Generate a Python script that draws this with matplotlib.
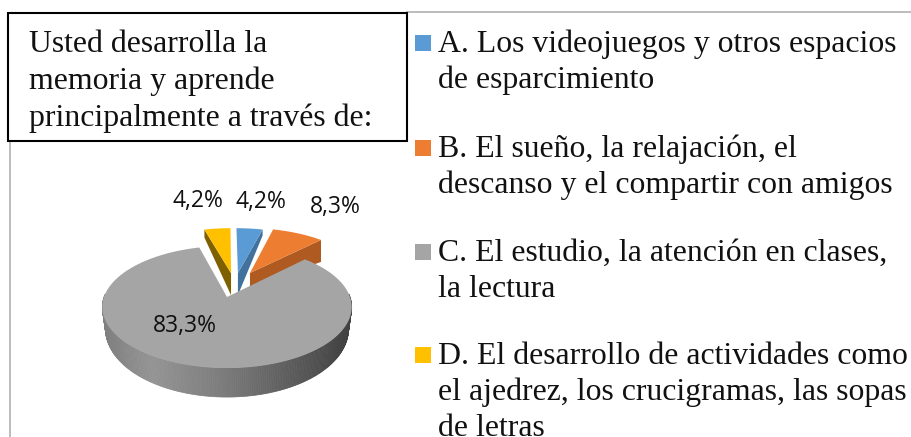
import numpy as np
import matplotlib
matplotlib.use("Agg")
import matplotlib.pyplot as plt
from matplotlib.patches import Polygon, Rectangle

# data
shares = [4.2, 8.3, 83.3, 4.2]
share_labels = ["4,2%", "8,3%", "83,3%", "4,2%"]
colors = ["#5B9BD5", "#ED7D31", "#A5A5A5", "#FFC000"]
dark = ["#41719C", "#AE5A21", "#6E6E6E", "#7F6000"]
title_lines = ["Usted desarrolla la", "memoria y aprende", "principalmente a través de:"]
legend_items = [
    ["A. Los videojuegos y otros espacios", "de esparcimiento"],
    ["B. El sueño, la relajación, el", "descanso y el compartir con amigos"],
    ["C. El estudio, la atención en clases,", "la lectura"],
    ["D. El desarrollo de actividades como", "el ajedrez, los crucigramas, las sopas", "de letras"],
]

# layout, in pixels of the picture
offsets = [(0.095, 0.43), (0.20, 0.433), (0, 0), (0.035, 0.43)]
label_xy = [(261, 202), (335, 207), (185, 326), (198, 201)]
legend_y = [52, 157, 261, 364]
CX, CY = 227, 297
A, B, K = 123, 59.4, 0.164

plt.rcParams["font.family"] = ["Liberation Serif", "DejaVu Sans"]
fig = plt.figure(figsize=(9.11, 4.37), dpi=100)
ax = fig.add_axes([0, 0, 1, 1])
ax.set_xlim(0, 911)
ax.set_ylim(437, 0)
ax.axis("off")


def project(t, r=1.0, off=(0, 0), drop=0.0):
    # t is clockwise from twelve o'clock, tilted with some perspective
    u = r * np.sin(t) + off[0]
    v = r * np.cos(t) + off[1]
    d = 1 + K * v
    return CX + A * u / d, CY - B * v / d + drop


def front_depth(t):
    return 20 - 9 * np.cos(t)


ends = np.cumsum(shares) / np.sum(shares) * 2 * np.pi
starts = ends - np.array(shares) / np.sum(shares) * 2 * np.pi

# chart frame behind the title box
ax.plot([10, 10], [141, 437], color="#B0B0B0", lw=1.2)
ax.plot([407, 911], [12, 12], color="#B0B0B0", lw=1.2)

# exploded slices first, the big one sits in front of them
wall_depth = {0: (22, 6), 1: (14, 22), 3: (22, 8)}
for i in [3, 0, 1]:
    ts = np.linspace(starts[i], ends[i], 40)
    off = offsets[i]
    d_in, d_out = wall_depth[i]
    x0, y0 = project(0, 0, off)
    # the cut face that shows is on the side away from twelve o'clock
    edge = starts[i] if i == 3 else ends[i]
    x1, y1 = project(edge, 1, off)
    wall = [(x0, y0), (x1, y1), (x1, y1 + d_out), (x0, y0 + d_in)]
    ax.add_patch(Polygon(wall, fc=dark[i], ec="none"))
    xs, ys = project(ts, 1, off)
    top = np.column_stack([np.r_[x0, xs], np.r_[y0, ys]])
    ax.add_patch(Polygon(top, fc=colors[i], ec="none"))

# side of the big slice, grey running darker to the right
ts = np.linspace(np.pi / 2 - 0.05, 3 * np.pi / 2 + 0.05, 240)
xt, yt = project(ts)
xb = CX + (xt - CX) * 0.975
yb = yt + front_depth(ts)
left_x, right_x = xt.min(), xt.max()
for j in range(len(ts) - 1):
    f = (xt[j] - left_x) / (right_x - left_x)
    g = np.interp(f, [0, 0.2, 0.5, 1], [0.50, 0.58, 0.48, 0.25])
    quad = [(xt[j], yt[j]), (xt[j + 1], yt[j + 1]), (xb[j + 1], yb[j + 1]), (xb[j], yb[j])]
    ax.add_patch(Polygon(quad, fc=(g, g, g), ec=(g, g, g), lw=0.5))

ts = np.linspace(starts[2], ends[2], 300)
xs, ys = project(ts)
ax.add_patch(Polygon(np.column_stack([np.r_[CX, xs], np.r_[CY, ys]]), fc=colors[2], ec="none"))

for (x, y), s in zip(label_xy, share_labels):
    ax.text(x, y, s, family="Open Sans", fontsize=16.5, ha="center", va="center", color="#111111")

# title box
ax.add_patch(Rectangle((7.5, 12.5), 399.5, 128.5, fc="white", ec="black", lw=1.5, zorder=5))
for k, line in enumerate(title_lines):
    ax.text(29, 52 + 37 * k, line, fontsize=22.9, va="baseline", ha="left", color="#111111", zorder=6)

# legend
for y, lines, c in zip(legend_y, legend_items, colors):
    ax.add_patch(Rectangle((415, y - 17), 16, 16, fc=c, ec="none"))
    for k, line in enumerate(lines):
        ax.text(438, y + 36 * k, line, fontsize=22.9, va="baseline", ha="left", color="#111111")

fig.savefig("out.png", dpi=100)
